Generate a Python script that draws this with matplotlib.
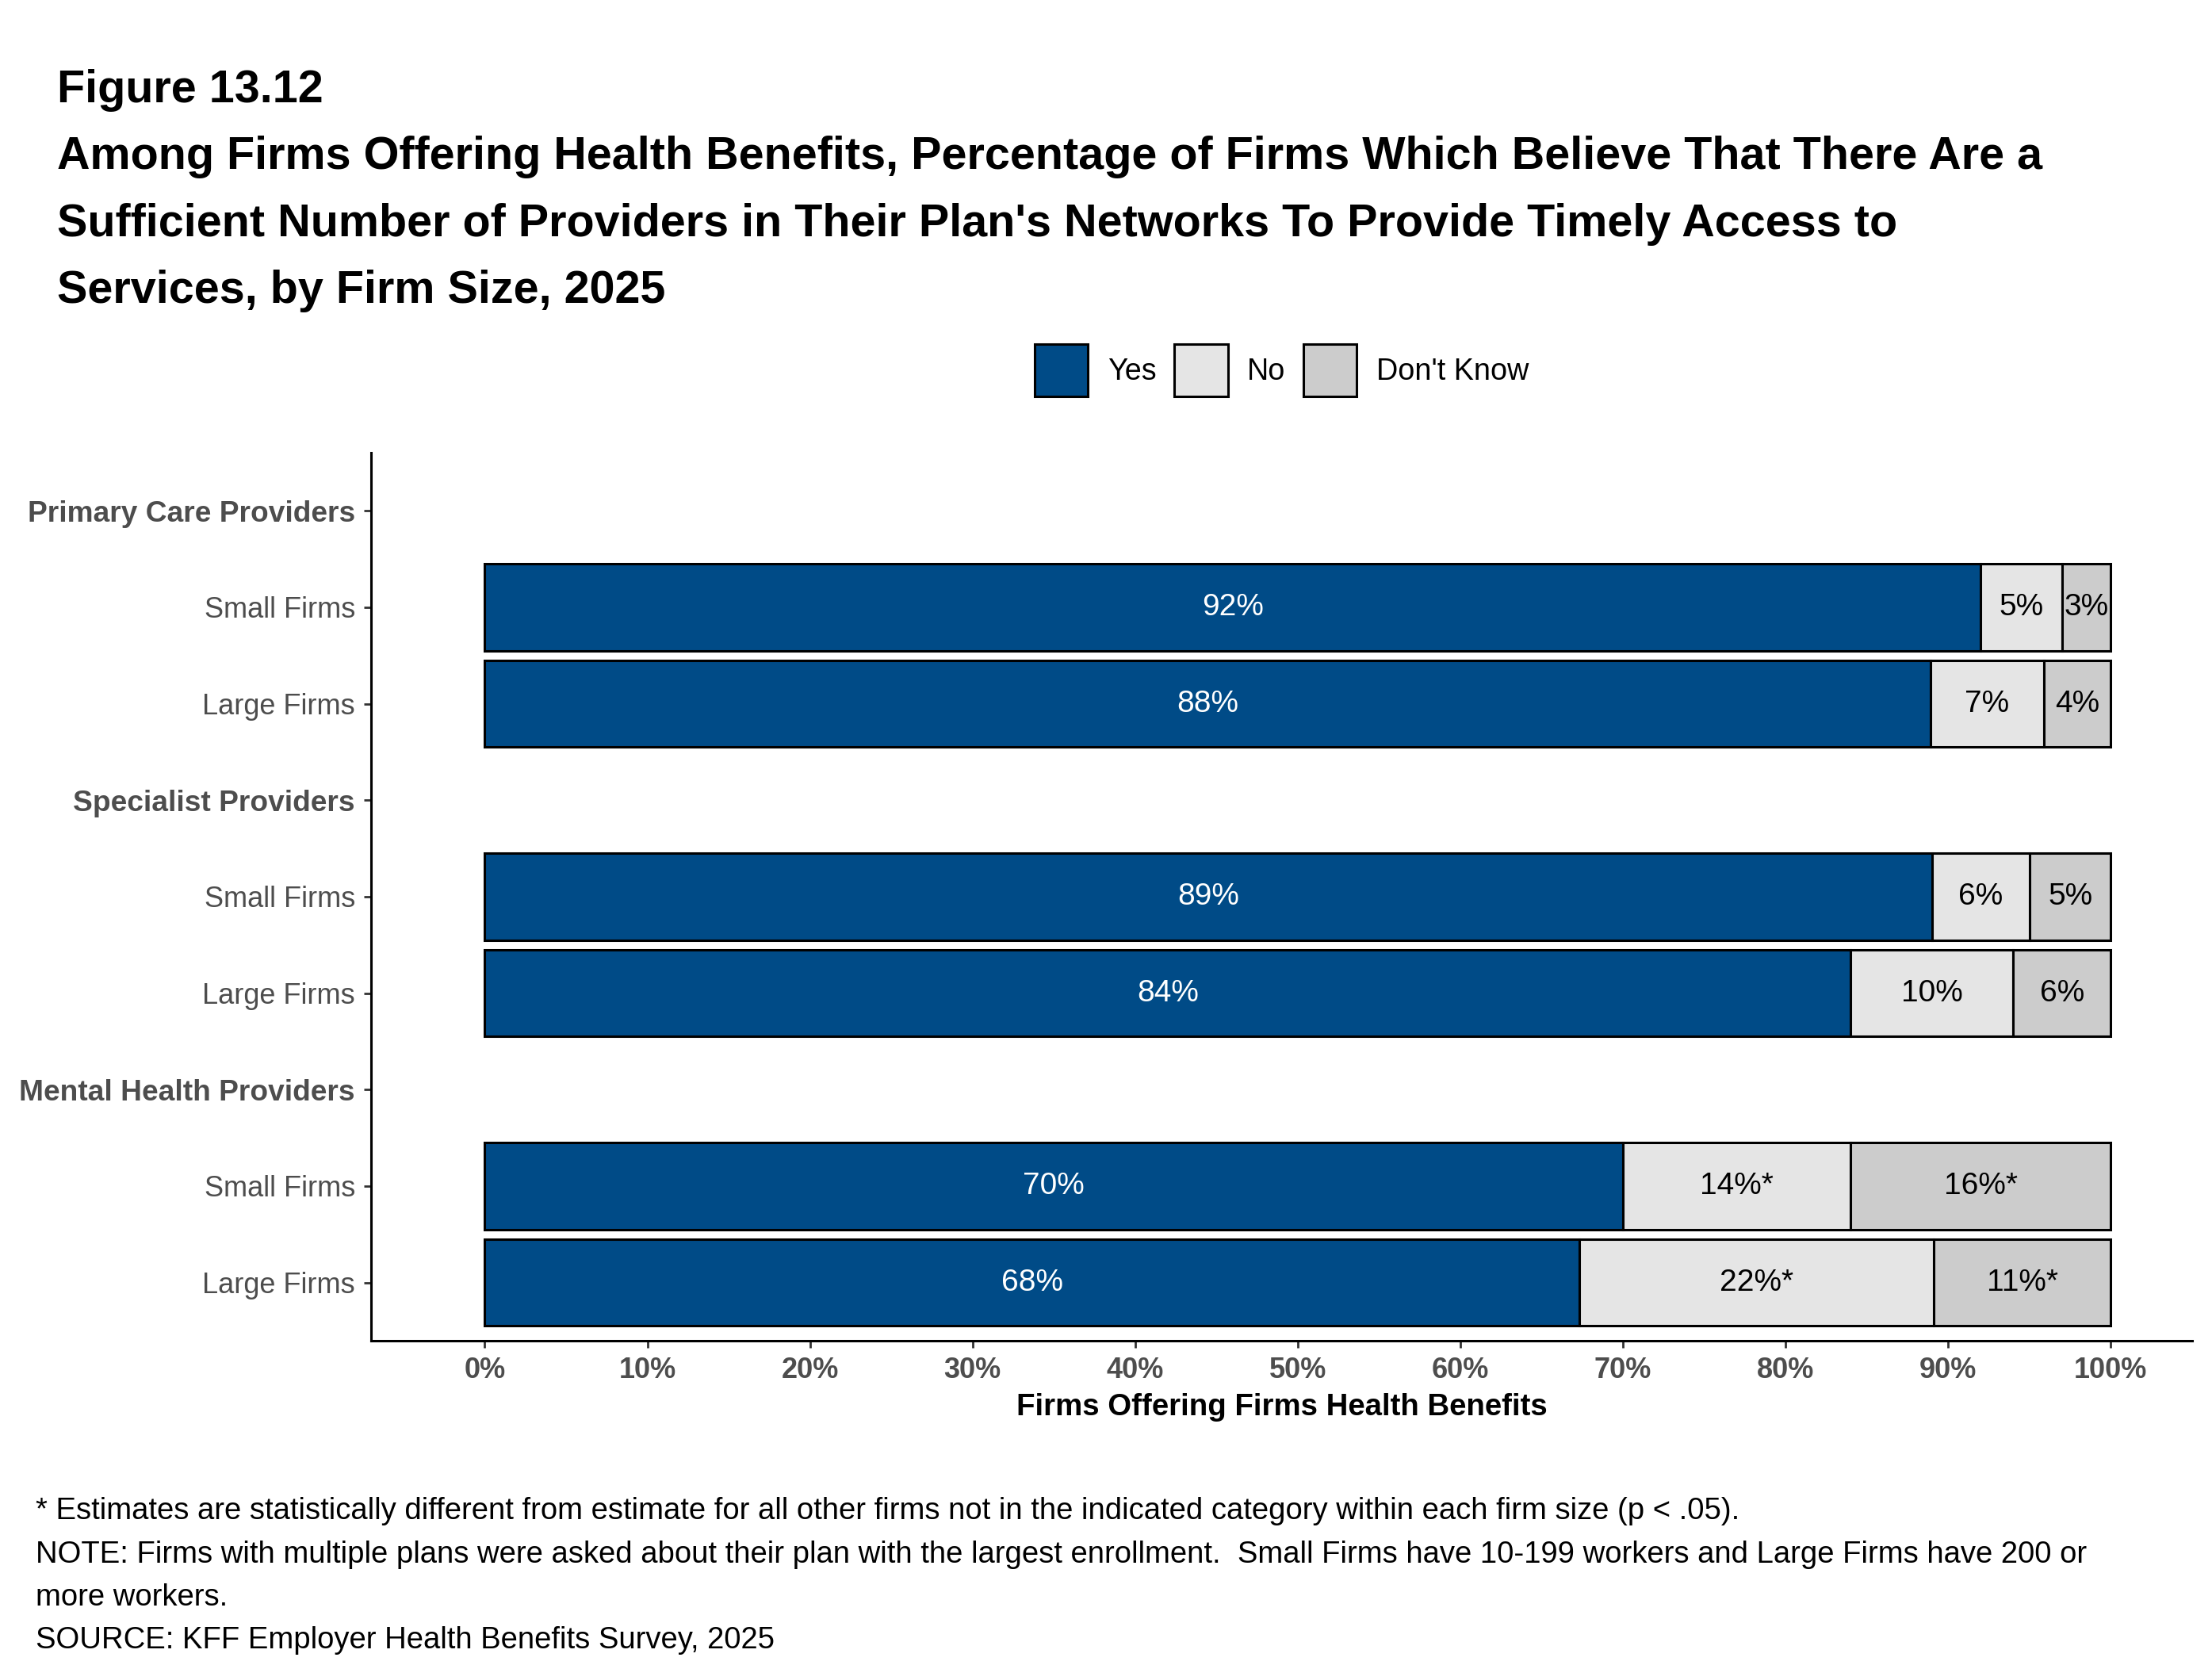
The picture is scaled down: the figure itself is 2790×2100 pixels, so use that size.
import numpy as np
import matplotlib
matplotlib.use("Agg")
import matplotlib.pyplot as plt
from matplotlib.patches import Patch

plt.rcParams['font.family'] = ['Liberation Sans', 'DejaVu Sans']

# data
groups = ["Primary Care Providers", "Specialist Providers", "Mental Health Providers"]
sizes = ["Small Firms", "Large Firms"]
series = ["Yes", "No", "Don't Know"]
yes_vals = [92.0, 88.9, 89.0, 84.0, 70.0, 67.3]
no_vals = [5.0, 7.0, 6.0, 10.0, 14.0, 21.8]
dk_vals = [3.0, 4.1, 5.0, 6.0, 16.0, 10.9]
yes_labels = ["92%", "88%", "89%", "84%", "70%", "68%"]
no_labels = ["5%", "7%", "6%", "10%", "14%*", "22%*"]
dk_labels = ["3%", "4%", "5%", "6%", "16%*", "11%*"]
xticks = [0, 10, 20, 30, 40, 50, 60, 70, 80, 90, 100]

colors = ["#004B87", "#E5E5E5", "#CCCCCC"]
text_colors = ["white", "black", "black"]
grey30 = "#4D4D4D"

fig = plt.figure(figsize=(13.95, 10.5), dpi=200)
ax = fig.add_axes([0.1677, 0.195, 0.8233, 0.533])

# y slots: a header row per group followed by its two firm-size rows
ylabels = []
header_pos = []
bar_pos = []
pos = 0
for g in groups:
    ylabels.append(g)
    header_pos.append(pos)
    pos += 1
    for s in sizes:
        ylabels.append(s)
        bar_pos.append(pos)
        pos += 1

left = np.zeros(len(bar_pos))
for vals, labels, col, tcol in zip([yes_vals, no_vals, dk_vals],
                                    [yes_labels, no_labels, dk_labels],
                                    colors, text_colors):
    vals = np.array(vals)
    ax.barh(bar_pos, vals, left=left, height=0.9, color=col,
            edgecolor="black", linewidth=1.1)
    for y, l, v, lab in zip(bar_pos, left, vals, labels):
        ax.text(l + v / 2, y, lab, ha="center", va="center",
                color=tcol, fontsize=14)
    left = left + vals

ax.set_xlim(-7, 105)
ax.set_ylim(len(ylabels) - 1 + 0.6, -0.6)
ax.set_yticks(range(len(ylabels)))
ax.set_yticklabels(ylabels, color=grey30, fontsize=13)
for i, t in enumerate(ax.get_yticklabels()):
    if i in header_pos:
        t.set_fontweight("bold")
        t.set_fontsize(13.35)
ax.set_xticks(xticks)
ax.set_xticklabels([f"{x}%" for x in xticks], color=grey30,
                   fontsize=13, fontweight="bold")
ax.tick_params(axis="both", length=3.2, width=1, color="#333333", pad=4)
ax.set_xlabel("Firms Offering Firms Health Benefits", fontsize=13.8,
              fontweight="bold", labelpad=4)

for s in ["top", "right"]:
    ax.spines[s].set_visible(False)
for s in ["left", "bottom"]:
    ax.spines[s].set_linewidth(1.1)
    ax.spines[s].set_color("black")

handles = [Patch(facecolor=c, edgecolor="black", linewidth=1.1) for c in colors]
fig.legend(handles, series, loc="center", bbox_to_anchor=(0.5795, 0.7775),
           ncol=3, frameon=False, fontsize=13.6, handlelength=1.78,
           handleheight=2.32, handletextpad=0.65, columnspacing=0.6)

title_lines = [
    "Figure 13.12",
    "Among Firms Offering Health Benefits, Percentage of Firms Which Believe That There Are a",
    "Sufficient Number of Providers in Their Plan's Networks To Provide Timely Access to",
    "Services, by Firm Size, 2025",
]
for line, ypx in zip(title_lines, [114, 198, 283, 367]):
    fig.text(0.0258, 1 - ypx / 2100, line, fontsize=20.7, fontweight="bold",
             ha="left", va="center")

notes = [
    "* Estimates are statistically different from estimate for all other firms not in the indicated category within each firm size (p < .05).",
    "NOTE: Firms with multiple plans were asked about their plan with the largest enrollment.  Small Firms have 10-199 workers and Large Firms have 200 or",
    "more workers.",
    "SOURCE: KFF Employer Health Benefits Survey, 2025",
]
for line, ypx in zip(notes, [1906, 1961, 2015, 2069]):
    fig.text(0.0161, 1 - ypx / 2100, line, fontsize=13.75, ha="left", va="center")

fig.savefig("out.png", dpi=200)
